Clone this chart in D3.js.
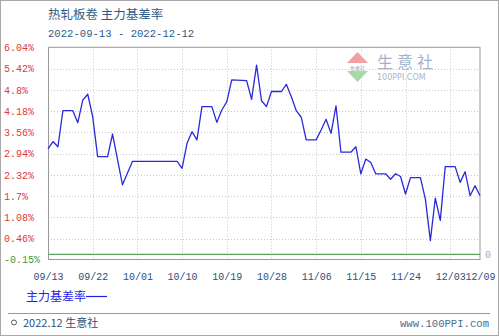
<!DOCTYPE html>
<html><head><meta charset="utf-8">
<script src="https://cdn.jsdelivr.net/npm/d3@7"></script>
<style>
html,body{margin:0;padding:0;background:#fff;}
svg{display:block;}
</style></head>
<body><svg id="c" width="499" height="336"></svg>
<script>
const title = "热轧板卷  主力基差率";
const subtitle = "2022-09-13 - 2022-12-12";
const seriesName = "主力基差率";
const dates = ["2022-09-13","2022-09-14","2022-09-15","2022-09-16","2022-09-18","2022-09-19","2022-09-20","2022-09-21","2022-09-22","2022-09-23","2022-09-25","2022-09-26","2022-09-28","2022-09-30","2022-10-09","2022-10-10","2022-10-11","2022-10-12","2022-10-13","2022-10-14","2022-10-16","2022-10-17","2022-10-18","2022-10-19","2022-10-20","2022-10-23","2022-10-24","2022-10-25","2022-10-26","2022-10-27","2022-10-28","2022-10-30","2022-10-31","2022-11-01","2022-11-02","2022-11-03","2022-11-04","2022-11-06","2022-11-07","2022-11-08","2022-11-09","2022-11-10","2022-11-11","2022-11-13","2022-11-14","2022-11-15","2022-11-16","2022-11-17","2022-11-18","2022-11-20","2022-11-21","2022-11-22","2022-11-23","2022-11-24","2022-11-25","2022-11-27","2022-11-28","2022-11-29","2022-11-30","2022-12-01","2022-12-02","2022-12-04","2022-12-05","2022-12-06","2022-12-07","2022-12-08","2022-12-09"];
const values = [3.08,3.29,3.14,4.19,4.19,3.84,4.50,4.67,4.02,2.85,2.85,3.51,2.03,2.71,2.71,2.51,3.24,3.58,3.34,4.31,4.31,3.85,4.21,4.45,5.09,5.07,4.52,5.52,4.48,4.31,4.75,4.75,4.96,4.60,4.19,4.00,3.34,3.34,3.63,3.94,3.53,4.33,2.98,2.98,3.14,2.35,2.78,2.68,2.35,2.35,2.19,2.35,2.27,1.76,2.24,2.24,1.61,0.40,1.64,0.99,2.56,2.56,2.10,2.41,1.71,2.00,1.71];
const yTicks = [6.04,5.42,4.8,4.18,3.56,2.94,2.32,1.7,1.08,0.46,-0.15];
const yTickLabels = ["6.04%","5.42%","4.8%","4.18%","3.56%","2.94%","2.32%","1.7%","1.08%","0.46%","-0.15%"];
const xTicks = ["2022-09-13","2022-09-22","2022-10-01","2022-10-10","2022-10-19","2022-10-28","2022-11-06","2022-11-15","2022-11-24","2022-12-03","2022-12-09"];
const xTickLabels = ["09/13","09/22","10/01","10/10","10/19","10/28","11/06","11/15","11/24","12/03","12/09"];
const footerLeft = "2022.12 生意社";
const footerRight = "www.100PPI.com";

const parse = d3.utcParse("%Y-%m-%d");
const data = dates.map((d,i)=>({d:parse(d), v:values[i]}));
const svg = d3.select("#c");
const L=48, R=480, T=47.3, B=259.5;
const mono = "'Liberation Mono','DejaVu Sans Mono',monospace";
const cjk = "'Noto Sans CJK SC','Liberation Mono',sans-serif";

const x = d3.scaleUtc().domain([parse(xTicks[0]), parse(xTicks[xTicks.length-1])]).range([L,R]);
const y = d3.scaleLinear().domain([-0.15, 6.04]).range([B,T]);

// outer border
svg.append("rect").attr("x",0.5).attr("y",0.5).attr("width",498).attr("height",335)
  .attr("fill","none").attr("stroke","#a8a8a8");

// titles
svg.append("text").attr("x",48).attr("y",19).text(title)
  .attr("font-family",cjk).attr("font-size",12.5).attr("fill","#2d5b86");
svg.append("text").attr("x",48).attr("y",37).text(subtitle)
  .attr("font-family",mono).attr("font-size",10.6).attr("fill","#2d5b86");

// watermark
const wm = svg.append("g");
wm.append("path").attr("d","M357.5,52 L347,63 L368,63 Z").attr("fill","#f2a0a0");
wm.append("path").attr("d","M347,71 L368,71 L357.5,82 Z").attr("fill","#a8d8a8");
wm.append("text").attr("x",357.5).attr("y",69.5).attr("text-anchor","middle").text("生意社")
  .attr("font-family",cjk).attr("font-size",5).attr("fill","#8aa");
wm.append("text").attr("x",377).attr("y",68).text("生意社")
  .attr("font-family",cjk).attr("font-size",16).attr("letter-spacing",4).attr("fill","#9fb4cc");
wm.append("text").attr("x",377).attr("y",80).text("100PPI.COM")
  .attr("font-family","'DejaVu Sans',sans-serif").attr("font-size",8).attr("fill","#a9b6c4");

// grid
const grid = svg.append("g");
grid.selectAll(".hg").data(yTicks.slice(1,-1)).join("line")
  .attr("x1",L).attr("x2",R).attr("y1",d=>Math.round(y(d))+0.5).attr("y2",d=>Math.round(y(d))+0.5)
  .attr("stroke","#c8c8c8").attr("stroke-dasharray","1,2");
grid.selectAll(".vg").data(xTicks.slice(1,-1)).join("line")
  .attr("x1",d=>Math.round(x(parse(d)))+0.5).attr("x2",d=>Math.round(x(parse(d)))+0.5).attr("y1",T).attr("y2",B)
  .attr("stroke","#c8c8c8").attr("stroke-dasharray","1,2");

// zero line
svg.append("line").attr("x1",L).attr("x2",R).attr("y1",y(0)).attr("y2",y(0))
  .attr("stroke","#5da35d").attr("stroke-width",1.4);

// frame
svg.append("rect").attr("x",L+0.5).attr("y",T).attr("width",R-L-0.5).attr("height",B-T)
  .attr("fill","none").attr("stroke","#999");

// axes
const yAxis = svg.append("g").attr("transform",`translate(${L},0)`)
  .call(d3.axisLeft(y).tickValues(yTicks).tickSize(0).tickFormat((d,i)=>yTickLabels[i]));
yAxis.select(".domain").remove();
yAxis.selectAll("text").attr("x",-44).attr("text-anchor","start")
  .attr("font-family",mono).attr("font-size",10).attr("fill",(d,i)=>i===yTicks.length-1?"#3f9a3f":"#e0383c");

const xAxis = svg.append("g").attr("transform",`translate(0,${B})`)
  .call(d3.axisBottom(x).tickValues(xTicks.map(parse)).tickSize(0).tickFormat((d,i)=>xTickLabels[i]));
xAxis.select(".domain").remove();
xAxis.selectAll("text").attr("dy",0).attr("y",20)
  .attr("font-family",mono).attr("font-size",10).attr("fill","#2d4f7a");

const rAxis = svg.append("g").attr("transform",`translate(${R},0)`)
  .call(d3.axisRight(y).tickValues([0]).tickSize(0).tickFormat(()=>"0"));
rAxis.select(".domain").remove();
rAxis.selectAll("text").attr("x",5).attr("font-family",mono).attr("font-size",10).attr("fill","#aaa");

// line
svg.append("path").datum(data)
  .attr("d",d3.line().x(d=>x(d.d)).y(d=>y(d.v)))
  .attr("fill","none").attr("stroke","#2a2ad8").attr("stroke-width",1.3).attr("stroke-linejoin","round");

// legend
svg.append("text").attr("x",26).attr("y",301).text(seriesName)
  .attr("font-family",cjk).attr("font-size",12).attr("fill","#1e1ee6");
svg.append("line").attr("x1",86).attr("x2",107).attr("y1",296.5).attr("y2",296.5)
  .attr("stroke","#1e1ee6").attr("stroke-width",1.2);

// footer
svg.append("line").attr("x1",8).attr("x2",490).attr("y1",313.5).attr("y2",313.5).attr("stroke","#999");
svg.append("circle").attr("cx",14).attr("cy",322.5).attr("r",2.5).attr("fill","none").attr("stroke","#556").attr("stroke-width",1);
svg.append("text").attr("x",23).attr("y",327).text(footerLeft)
  .attr("font-family",cjk).attr("font-size",11).attr("fill","#2d4f7a");
svg.append("text").attr("x",489).attr("y",327).attr("text-anchor","end").text(footerRight)
  .attr("font-family",mono).attr("font-size",10.6).attr("fill","#4f6d8f");
</script></body></html>
